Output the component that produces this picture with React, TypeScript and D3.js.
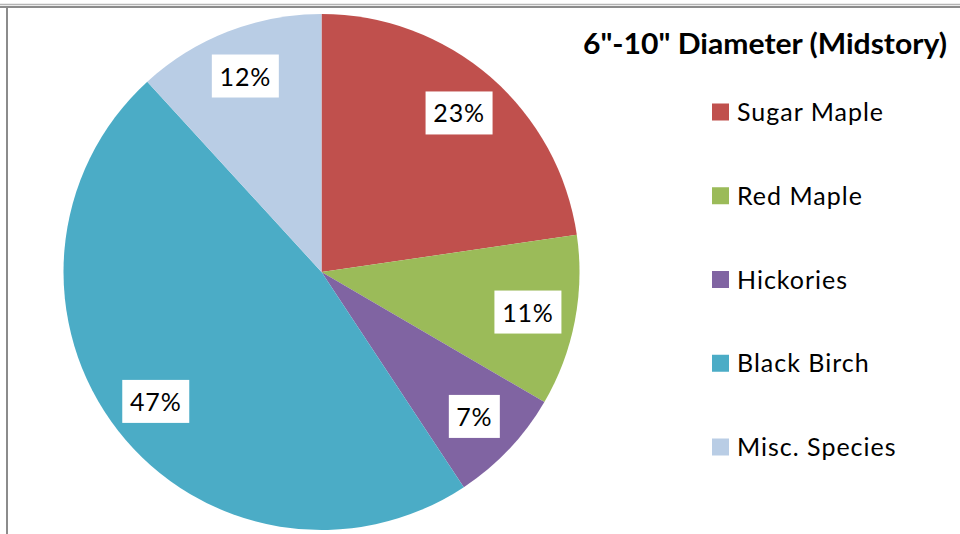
import React from "react";
import * as d3 from "d3";

const categories = ["Sugar Maple", "Red Maple", "Hickories", "Black Birch", "Misc. Species"];
const values = [22.7, 10.7, 7.3, 47.5, 11.8];
const labels = ["23%", "11%", "7%", "47%", "12%"];
const colors = ["#C0504D", "#9BBB59", "#8064A2", "#4BACC6", "#B9CDE5"];
const title = "6\"-10\" Diameter (Midstory)";

const W = 960;
const H = 534;
const cx = 321.5;
const cy = 272;
const R = 258;
const FONT = "Lato, 'Open Sans', sans-serif";

export default function App() {
  const pie = d3.pie<number>().sort(null).value((d) => d)(values);
  const arc = d3.arc<d3.PieArcDatum<number>>().innerRadius(0).outerRadius(R);
  const labelArc = d3.arc<d3.PieArcDatum<number>>().innerRadius(R * 0.815).outerRadius(R * 0.815);
  const legendY = d3.scalePoint<string>().domain(categories).range([112, 447]);

  return (
    <svg width={W} height={H} style={{ position: "absolute", left: 0, top: 0, background: "#fff" }}>
      <rect x={0} y={0} width={W} height={H} fill="#fff" />
      <line x1={0} x2={W} y1={4.5} y2={4.5} stroke="#b4b4b4" strokeWidth={1.5} />
      <line x1={0} x2={W} y1={7} y2={7} stroke="#8c8c8c" strokeWidth={2} />
      <line x1={7} x2={7} y1={6} y2={H} stroke="#8c8c8c" strokeWidth={2} />
      <g transform={`translate(${cx},${cy})`}>
        {pie.map((p, i) => (
          <path key={i} d={arc(p) || ""} fill={colors[i]} />
        ))}
        {pie.map((p, i) => {
          const [lx, ly] = labelArc.centroid(p);
          const w = labels[i].length === 2 ? 51 : 67;
          return (
            <g key={"l" + i} transform={`translate(${lx},${ly})`}>
              <rect x={-w / 2} y={-21.5} width={w} height={43} fill="#fff" />
              <text x={0} y={9.5} textAnchor="middle" fontFamily={FONT} fontSize={25} letterSpacing={0.8} fill="#000">
                {labels[i]}
              </text>
            </g>
          );
        })}
      </g>
      <text x={583} y={54} textLength={364} lengthAdjust="spacingAndGlyphs" fontFamily={FONT} fontWeight="bold" fontSize={28} fill="#000">
        {title}
      </text>
      {categories.map((c, i) => {
        const y = legendY(c) || 0;
        return (
          <g key={"lg" + i}>
            <rect x={712} y={y - 8.5} width={17} height={17} fill={colors[i]} />
            <text x={737} y={y + 9} fontFamily={FONT} fontSize={25} letterSpacing={1.0} fill="#000">
              {c}
            </text>
          </g>
        );
      })}
    </svg>
  );
}
